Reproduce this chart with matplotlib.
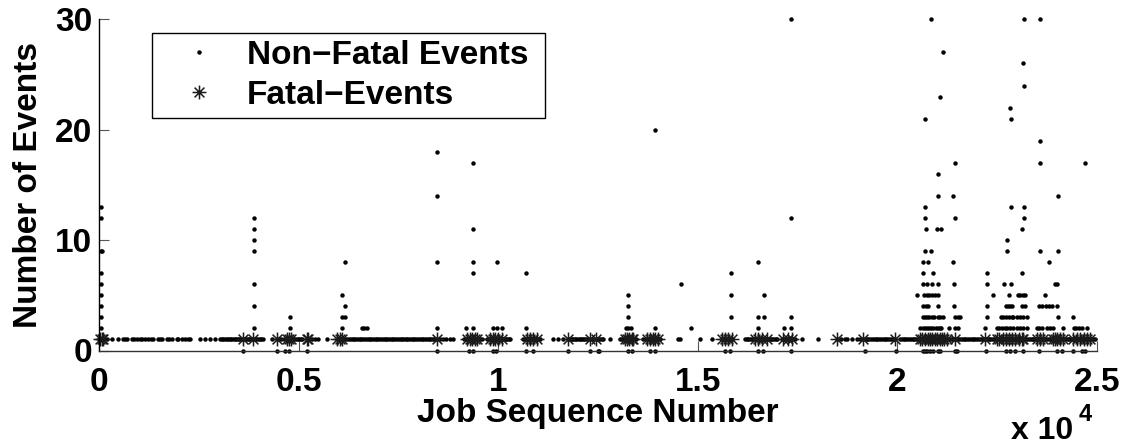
import matplotlib
matplotlib.use("Agg")
import matplotlib.pyplot as plt
from matplotlib.path import Path

plt.rcParams["font.family"] = ["Liberation Sans", "DejaVu Sans"]
plt.rcParams["font.weight"] = "bold"

# ---- data (x = job sequence number) ----
x_ticks = [0, 5000, 10000, 15000, 20000, 25000]
x_tick_labels = ["0", "0.5", "1", "1.5", "2", "2.5"]
y_ticks = [0, 10, 20, 30]

# non-fatal events: jobs with zero events that still appear on the axis
zero_x = [3593, 4446, 4655, 4764, 5198, 8457, 9275, 9375, 9860, 9944,
          10688, 10864, 11758, 12301, 12510, 12533, 13261, 13344, 13804, 13930,
          15685, 15811, 16521, 16646, 17341, 19193, 19960, 20653, 20700, 20738,
          20820, 20904, 21029, 21072, 21448, 21500, 22225, 22726, 22827, 22952,
          23161, 23562, 23998, 24124, 24413, 24624, 24707]

# non-fatal events with a count of one (the dense band)
one_x = [0, 40, 80, 120, 185, 310, 477, 602, 644, 686, 811, 878, 937, 1020, 1062,
         1146, 1229, 1296, 1355, 1480, 1521, 1563, 1689, 1756, 1814, 1939, 1981,
         2065, 2148, 2215, 2273, 2524, 2649, 2775, 2900,
         3030, 3070, 3110, 3150, 3190, 3230, 3270, 3310, 3350, 3390, 3430, 3470,
         3510, 3550, 3640, 3680, 3720, 3760, 3800, 3840, 3900, 3940, 3980, 4020,
         4060, 4100, 4320, 4500, 4560, 4620, 4680, 4720, 4800, 4850, 4890, 4930,
         4970, 5010, 5050, 5090, 5260, 5324, 5400, 5491, 5700, 6000, 6040, 6080,
         6120, 6170, 6220, 6260, 6300, 6350, 6390, 6440, 6480, 6530, 6570, 6620,
         6660, 6700, 6750, 6790, 6840, 6880, 6930, 6970, 7020, 7060, 7100, 7150,
         7190, 7240, 7280, 7330, 7370, 7410, 7460, 7500, 7550, 7590, 7640, 7680,
         7720, 7770, 7810, 7860, 7900, 7950, 7990, 8030, 8080, 8120, 8170, 8210,
         8260, 8300, 8340, 8380, 8420, 8540, 8620, 8700, 8790, 8875,
         9150, 9200, 9250, 9300, 9350, 9400, 9450, 9500, 9543, 9600, 9710, 9780,
         9830, 9880, 9930, 9980, 10030, 10070, 10110, 10150, 10190, 10230, 10270,
         10300, 10630, 10670, 10710, 10750, 10790, 10830, 10870, 10910, 10950,
         10990, 11040, 11382, 11500, 11630, 11800, 11840, 11880, 11920, 11960,
         12000, 12040, 12080, 12120, 12160, 12200, 12240, 12350, 12470, 12510,
         12550, 12590, 12630, 12801, 13050, 13090, 13130, 13170, 13210, 13250,
         13290, 13330, 13370, 13410, 13450, 13637, 13720, 13760, 13800, 13840,
         13880, 13920, 13960, 14000, 14050, 14515, 14556, 15058, 15350, 15600,
         15640, 15680, 15720, 15760, 15800, 15850, 16190, 16230, 16270, 16310,
         16350, 16390, 16430, 16470, 16510, 16550, 16590, 16630, 16670, 16710,
         16750, 16790, 16830, 16870, 16910, 16950, 16990, 17110, 17150, 17190,
         17230, 17270, 17310, 17350, 17400, 17440, 17608, 18026, 18600, 18680,
         18750, 18860, 18980, 19070, 19190, 19235, 19280, 19325, 19370, 19415,
         19460, 19505, 19550, 19595, 19640, 19685, 19730, 19775, 19820, 19865,
         19910, 20070, 20115, 20160, 20205, 20250, 20295, 20340, 20385, 20430,
         20475, 20520, 20565, 20610, 20655, 20700, 20745, 20790, 20835, 20880,
         20925, 20970, 21015, 21060, 21105, 21150, 21195, 21240, 21324, 21370,
         21410, 21450, 21490, 21530, 21575, 21620, 21665, 21710, 21755, 21800,
         21845, 21890, 21935, 21980, 22025, 22070, 22115, 22160, 22200, 22245,
         22290, 22335, 22380, 22425, 22470, 22515, 22560, 22605, 22650, 22695,
         22740, 22785, 22830, 22875, 22920, 22965, 23010, 23055, 23100, 23145,
         23190, 23235, 23280, 23325, 23370, 23415, 23460, 23505, 23550, 23595,
         23640, 23685, 23730, 23775, 23820, 23865, 23910, 23955, 24000, 24045,
         24090, 24135, 24180, 24225, 24270, 24315, 24360, 24405, 24450, 24495,
         24540, 24585, 24630, 24675, 24720, 24765, 24810, 24855, 24900, 24960]

# non-fatal events with small counts, one list per count
two_x = [40, 3870, 4770, 6080, 6580, 6640, 6700, 8460, 9190, 9360, 9880, 9960,
         10100, 10690, 13200, 13260, 13320, 13940, 14840, 16520, 17150, 17340,
         20560, 20655, 20700, 20750, 20800, 20850, 20900, 20960, 21010, 21060,
         21100, 21300, 21450, 21520, 22200, 22500, 22560, 22620, 22690, 22750,
         22820, 22910, 23000, 23080, 23160, 23245, 23500, 23560, 23620, 23750,
         23830, 23915, 24165, 24420, 24480, 24560, 24640, 24750]
three_x = [40, 4770, 6080, 6170, 13260, 15830, 16520, 16650, 17340, 20655, 20700,
           20750, 20800, 20860, 20920, 21010, 21080, 21155, 21450, 21520, 21575,
           22240, 22595, 22660, 22730, 22800, 22870, 22910, 23010, 23090, 23160,
           23245, 24020, 24400]
four_x = [40, 3870, 6170, 13260, 20655, 20710, 20780, 21010, 21430, 22250, 22720,
          22770, 22820, 22870, 23120, 23200, 23560, 23640, 23720, 23800, 23870,
          23995]
five_x = [40, 6080, 13260, 15830, 16650, 20505, 20680, 20740, 20800, 20880, 20950,
          21010, 22410, 22800, 23035, 23090, 23145, 23200, 23710]
six_x = [40, 3870, 14580, 20655, 20755, 20865, 21030, 21430, 22260, 22685, 22850,
         23945, 24005]

# non-fatal events with larger counts (values above 30 sit on the top edge)
peak_x = [40, 40, 40, 80, 40,
          3870, 3870, 3870, 3870, 6170,
          8460, 8460, 8460, 9360, 9360, 9360, 9360, 9960, 10690,
          13940, 15830, 16520, 17340, 17340,
          20840, 21140, 21065, 20690, 21450, 21015, 21015, 21405, 20690, 20690,
          21440, 20715, 21005, 21090, 20700, 20840, 20655, 20780, 21400, 20655, 20890,
          23185, 23585, 23145, 23185, 22835, 22850, 23570, 23570, 24715, 24020,
          22845, 23170, 23185, 23130, 22745, 22745, 23570, 24030, 23810, 22240, 23135]
peak_y = [13, 12, 9, 9, 7,
          12, 11, 10, 9, 8,
          18, 14, 8, 17, 11, 8, 7, 8, 7,
          20, 7, 8, 30, 12,
          30, 27, 23, 21, 17, 16, 14, 14, 13, 12,
          12, 11, 11, 11, 9, 9, 8, 8, 8, 7, 7,
          30, 30, 26, 24, 22, 21, 19, 17, 17, 14,
          13, 13, 12, 11, 10, 9, 9, 9, 8, 7, 7]

# fatal events (all plotted at one event)
fatal_x = [20, 60, 100, 3593, 3861, 4446, 4697, 4760, 4800, 5198, 5240, 5951,
           6035, 6075, 8457, 9208, 9280, 9350, 9420, 9459, 9793, 9860, 9930,
           10003, 10103, 10713, 10800, 10880, 10964, 11758, 12301, 12440, 13177,
           13230, 13286, 13340, 13386, 13721, 13800, 13870, 13940, 14013, 15601,
           15680, 15750, 15852, 16437, 16520, 16600, 16730, 17148, 17250, 17357,
           18486, 19151, 19945, 20572, 20630, 20700, 20760, 20820, 20880, 20940,
           21000, 21060, 21120, 21180, 21241, 21450, 22202, 22495, 22560, 22640,
           22720, 22800, 22880, 22960, 23040, 23120, 23163, 23497, 23581, 23665,
           23915, 23960, 24000, 24082, 24166, 24417, 24500, 24584, 24670, 24751,
           24834]


def main():
    nf_x = zero_x + one_x + two_x + three_x + four_x + five_x + six_x + peak_x
    nf_y = ([0] * len(zero_x) + [1] * len(one_x) + [2] * len(two_x)
            + [3] * len(three_x) + [4] * len(four_x) + [5] * len(five_x)
            + [6] * len(six_x) + peak_y)
    fatal_y = [1] * len(fatal_x)

    fig = plt.figure(figsize=(11.24, 4.46), dpi=100)
    ax = fig.add_axes([99.3 / 1124, 1 - 350.5 / 446, 997.4 / 1124, 331.2 / 446])

    ax.plot(nf_x, nf_y, linestyle="none", marker="o", markersize=3.2,
            markeredgewidth=0, color="black", clip_on=False,
            label="Non\u2212Fatal Events")

    s = 0.7071
    asterisk = Path([(-1, 0), (1, 0), (0, -1), (0, 1), (-s, -s), (s, s), (-s, s), (s, -s)],
                    [Path.MOVETO, Path.LINETO] * 4)
    ax.plot(fatal_x, fatal_y, linestyle="none", marker=asterisk, markersize=10,
            markerfacecolor="none", markeredgecolor="#1a1a1a", markeredgewidth=1.1,
            clip_on=False, label="Fatal\u2212Events")

    ax.set_xlim(0, 25000)
    ax.set_ylim(0, 30)
    ax.set_xticks(x_ticks)
    ax.set_xticklabels(x_tick_labels)
    ax.set_yticks(y_ticks)

    for side in ("top", "right"):
        ax.spines[side].set_visible(False)
    ax.spines["left"].set_linewidth(1.0)
    ax.spines["bottom"].set_linewidth(1.0)
    ax.spines["bottom"].set_color("#333333")

    ax.tick_params(axis="both", direction="in", length=7.2, width=0.8,
                   color="#555555", labelsize=24)
    ax.tick_params(axis="x", pad=12)
    ax.tick_params(axis="y", pad=5)
    for lab in ax.get_xticklabels() + ax.get_yticklabels():
        lab.set_fontweight("bold")

    ax.set_xlabel("Job Sequence Number", fontsize=24, fontweight="bold")
    ax.xaxis.set_label_coords(0.5, -0.142)
    ax.set_ylabel("Number of Events", fontsize=24, fontweight="bold")
    ax.yaxis.set_label_coords(-0.0554, 0.5)

    leg = ax.legend(loc="upper left",
                    bbox_to_anchor=(152 / 1124, 1 - 118.3 / 446, 393 / 1124, 85.6 / 446),
                    bbox_transform=fig.transFigure, mode="expand", borderaxespad=0,
                    prop={"weight": "bold", "size": 24},
                    handlelength=2.38, handletextpad=0.25, borderpad=0.22,
                    labelspacing=0.27, fancybox=False, framealpha=1, numpoints=1)
    leg.get_frame().set_edgecolor("black")
    leg.get_frame().set_linewidth(1.0)

    fig.text(1073 / 1124, 1 - 439 / 446, "x 10", ha="right", va="baseline",
             fontsize=23, fontweight="bold")
    fig.text(1079 / 1124, 1 - 421 / 446, "4", ha="left", va="baseline",
             fontsize=17, fontweight="bold")

    fig.savefig("out.png", dpi=100)


if __name__ == "__main__":
    main()
